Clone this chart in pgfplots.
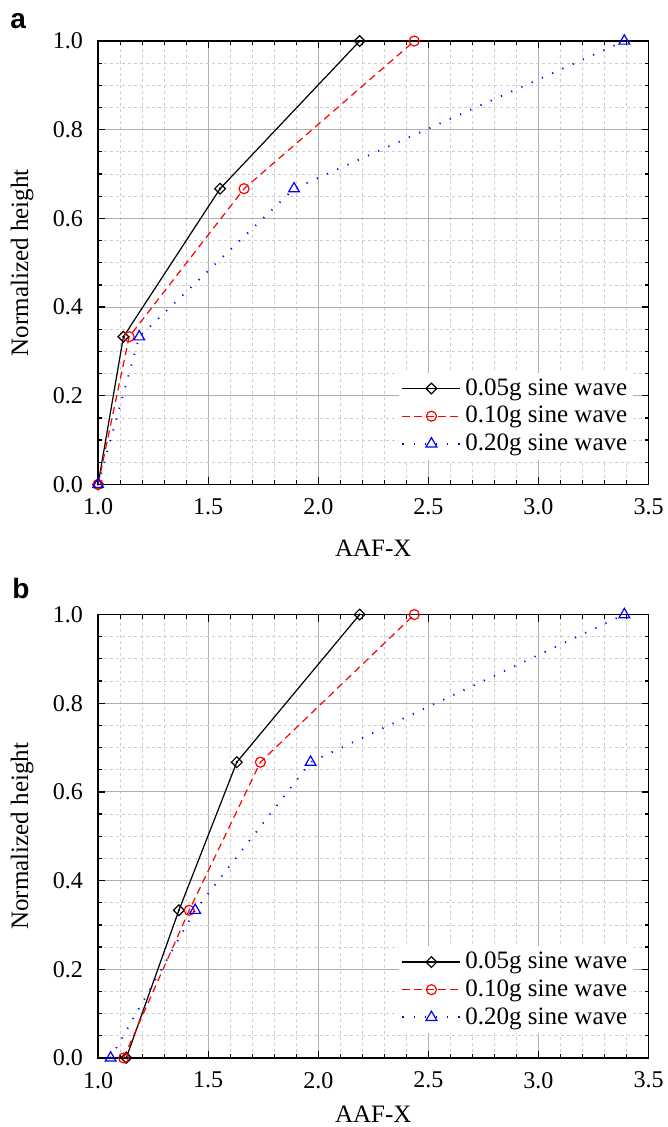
\documentclass[border=0pt]{standalone}
\usepackage{pgfplots}
\pgfplotsset{compat=1.18}
\usepackage{fontspec}
\setmainfont{Liberation Serif}
\newfontfamily\labelfont{Liberation Sans}
\definecolor{majgrid}{RGB}{175,175,175}
\definecolor{mingrid}{RGB}{205,205,205}
\pgfplotsset{
  panel/.style={
    scale only axis, width=275pt, height=221.5pt,
    xmin=1, xmax=3.5, ymin=0, ymax=1,
    xtick={1,1.5,...,3.5}, ytick={0,0.2,...,1},
    minor x tick num=4, minor y tick num=3,
    grid=both,
    major grid style={majgrid, line width=0.5pt},
    minor grid style={mingrid, dash pattern=on 1.5pt off 1.5pt, line width=0.4pt},
    axis line style={line width=0.8pt},
    tick style={black, line width=0.6pt},
    major tick length=3.5pt, minor tick length=2pt,
    tick align=inside,
    xtick pos=both, ytick pos=both,
    /pgf/number format/assume math mode=true,
    /pgf/number format/fixed, /pgf/number format/fixed zerofill, /pgf/number format/precision=1,
    tick label style={font=\fontsize{12}{14}\selectfont},
    xticklabel style={yshift=-3.5pt},
    yticklabel style={xshift=-4pt},
    label style={font=\fontsize{12.5}{15}\selectfont},
    xlabel={AAF-X}, ylabel={Normalized height},
    xlabel style={at={(axis description cs:0.5,-0.1445)}, anchor=base},
    ylabel style={at={(axis description cs:-0.138,0.5)}, anchor=center},
    legend style={at={(rel axis cs:0.973,0.055)}, anchor=south east, draw=none, fill=white,
      font=\fontsize{12.5}{15}\selectfont, row sep=0pt, inner sep=1pt},
    legend cell align=left,
    legend image code/.code={\draw[mark repeat=2,mark phase=2] plot coordinates {(0cm,0cm) (0.51cm,0cm) (1.02cm,0cm)};},
  },
  s1/.style={black, line width=0.6pt, mark=square, mark size=1.9pt, mark options={rotate=45, solid, fill=white}},
  s2/.style={red, line width=0.6pt, dash pattern=on 3.6pt off 2.4pt, mark=o, mark size=2.5pt, mark options={solid, fill=white}},
  s3/.style={blue, line width=0.9pt, dash pattern=on 0.6pt off 5pt, mark=triangle, mark size=3.1pt, mark options={solid, fill=white, line width=0.6pt}},
}
\begin{document}
\begin{tikzpicture}
\path[use as bounding box] (-49pt,-321pt) rectangle (284.5pt,242pt);
\begin{axis}[panel, at={(0,0)}, anchor=south west, xlabel style={yshift=-4pt}]
\addplot[s1] coordinates {(1.00,0) (1.115,0.333) (1.554,0.667) (2.188,1.0)};
\addplot[s2] coordinates {(1.00,0) (1.141,0.333) (1.663,0.667) (2.436,1.0)};
\addplot[s3] coordinates {(1.00,0) (1.187,0.333) (1.890,0.667) (3.390,1.0)};
\addplot[only marks, mark=*, mark size=0.35pt, black, forget plot] coordinates {(1.00,0) (1.115,0.333) (1.554,0.667) (2.188,1.0)};
\legend{0.05g sine wave, 0.10g sine wave, 0.20g sine wave}
\end{axis}
\node[font=\labelfont\bfseries\fontsize{14}{16}\selectfont, anchor=base west, inner sep=0pt] at (-44pt,228pt) {a};
\begin{axis}[panel, at={(0,-286.5pt)}, anchor=south west]
\addplot[s1] coordinates {(1.128,0) (1.367,0.333) (1.630,0.667) (2.188,1.0)};
\addplot[s2] coordinates {(1.116,0) (1.414,0.333) (1.737,0.667) (2.436,1.0)};
\addplot[s3] coordinates {(1.057,0) (1.441,0.333) (1.965,0.667) (3.390,1.0)};
\addplot[only marks, mark=*, mark size=0.35pt, black, forget plot] coordinates {(1.128,0) (1.367,0.333) (1.630,0.667) (2.188,1.0)};
\legend{0.05g sine wave, 0.10g sine wave, 0.20g sine wave}
\end{axis}
\node[font=\labelfont\bfseries\fontsize{14}{16}\selectfont, anchor=base west, inner sep=0pt] at (-43pt,-57pt) {b};
\end{tikzpicture}
\end{document}
